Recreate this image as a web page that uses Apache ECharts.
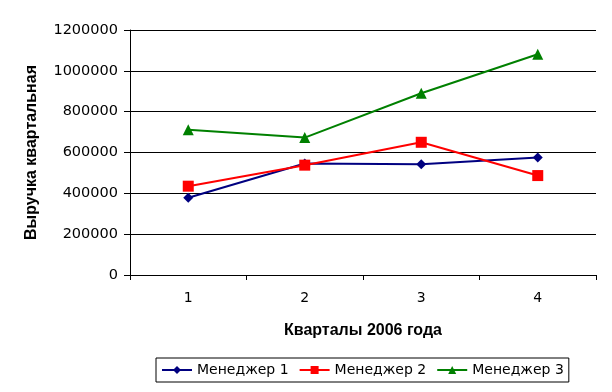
<!DOCTYPE html>
<html><head><meta charset="utf-8">
<script src="https://cdn.jsdelivr.net/npm/echarts@6/dist/echarts.min.js"></script>
<style>html,body{margin:0;padding:0;background:#fff}#c{width:612px;height:392px}</style>
</head><body><div id="c"></div>
<script>
var categories = ['1', '2', '3', '4'];
var seriesNames = ['Менеджер 1', 'Менеджер 2', 'Менеджер 3'];
var manager1 = [378000, 546000, 543000, 575000];
var manager2 = [435000, 538000, 650000, 487000];
var manager3 = [712000, 673000, 890000, 1081000];
var yTicks = [0, 200000, 400000, 600000, 800000, 1000000, 1200000];

var chart = echarts.init(document.getElementById('c'), null, {renderer: 'canvas'});
var font = 'DejaVu Sans';
var colors = ['#000080', '#FF0000', '#008000'];
var symbols = ['diamond', 'rect', 'triangle'];
var sizes = [10, 11, 11];
var data = [manager1, manager2, manager3];
chart.setOption({
  animation: false,
  grid: {left: 130, right: 16, top: 30, bottom: 117, containLabel: false},
  xAxis: {
    type: 'category', data: categories, boundaryGap: true,
    name: 'Кварталы 2006 года', nameLocation: 'middle', nameGap: 48,
    nameTextStyle: {fontFamily: 'Liberation Sans', fontWeight: 'bold', fontSize: 16, color: '#000'},
    axisLine: {lineStyle: {color: '#000', width: 1}},
    axisTick: {show: true, length: 5, alignWithLabel: false, lineStyle: {color: '#000'}},
    axisLabel: {fontFamily: font, fontSize: 14, color: '#000', margin: 16},
    splitLine: {show: false}
  },
  yAxis: {
    type: 'value', min: yTicks[0], max: yTicks[yTicks.length - 1], interval: 200000,
    name: 'Выручка квартальная', nameLocation: 'middle', nameGap: 90, nameRotate: 90,
    nameTextStyle: {fontFamily: 'Liberation Sans', fontWeight: 'bold', fontSize: 16, color: '#000'},
    axisLine: {show: true, lineStyle: {color: '#000', width: 1}},
    axisTick: {show: true, length: 6, lineStyle: {color: '#000'}},
    axisLabel: {fontFamily: font, fontSize: 14.5, color: '#000', margin: 12,
      formatter: function (v) { return String(v); }},
    splitLine: {show: true, lineStyle: {color: '#000', width: 1}}
  },
  legend: {
    data: seriesNames, bottom: 10, left: 156, itemGap: 10,
    itemWidth: 30, itemHeight: 10,
    borderColor: '#000', borderWidth: 1, borderRadius: 0,
    padding: [5, 5, 5, 5],
    textStyle: {fontFamily: font, fontSize: 14, color: '#000'}
  },
  series: seriesNames.map(function (n, i) {
    return {
      name: n, type: 'line', data: data[i],
      symbol: symbols[i], symbolSize: sizes[i], showAllSymbol: true,
      lineStyle: {color: colors[i], width: 2},
      itemStyle: {color: colors[i]}
    };
  })
});
</script></body></html>
